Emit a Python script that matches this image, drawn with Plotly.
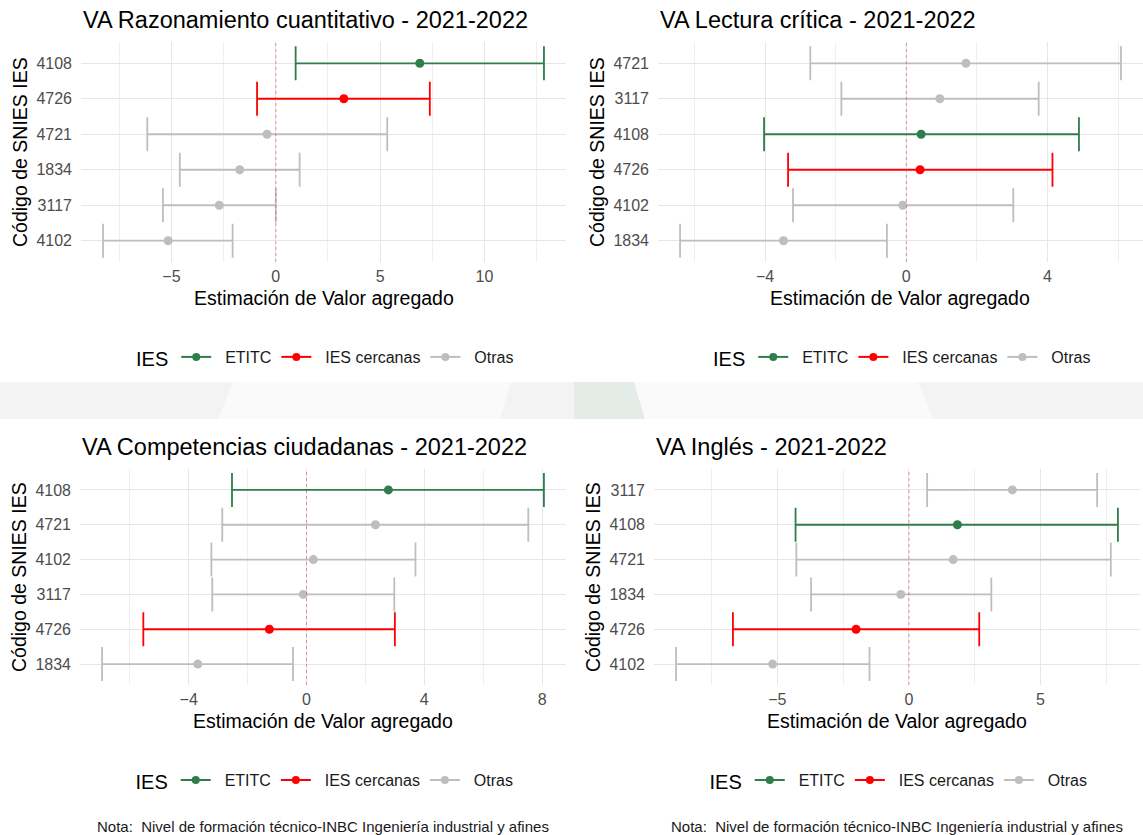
import plotly.graph_objects as go

W, H = 1143, 835

# ---------------- data ----------------
titles = [
    "VA Razonamiento cuantitativo - 2021-2022",
    "VA Lectura crítica - 2021-2022",
    "VA Competencias ciudadanas - 2021-2022",
    "VA Inglés - 2021-2022",
]

# Razonamiento cuantitativo (top -> bottom)
codes_rc = ["4108", "4726", "4721", "1834", "3117", "4102"]
est_rc = [6.90, 3.26, -0.42, -1.73, -2.71, -5.16]
low_rc = [0.95, -0.90, -6.16, -4.60, -5.41, -8.28]
high_rc = [12.85, 7.38, 5.34, 1.14, 0.00, -2.07]

# Lectura crítica
codes_lc = ["4721", "3117", "4108", "4726", "4102", "1834"]
est_lc = [1.69, 0.95, 0.42, 0.39, -0.10, -3.48]
low_lc = [-2.72, -1.84, -4.03, -3.35, -3.21, -6.41]
high_lc = [6.08, 3.75, 4.89, 4.14, 3.03, -0.55]

# Competencias ciudadanas
codes_cc = ["4108", "4721", "4102", "3117", "4726", "1834"]
est_cc = [2.78, 2.34, 0.23, -0.11, -1.26, -3.69]
low_cc = [-2.53, -2.86, -3.23, -3.20, -5.54, -6.94]
high_cc = [8.06, 7.53, 3.70, 2.98, 3.00, -0.46]

# Inglés
codes_in = ["3117", "4108", "4721", "1834", "4726", "4102"]
est_in = [3.93, 1.84, 1.68, -0.31, -2.01, -5.18]
low_in = [0.69, -4.31, -4.28, -3.72, -6.69, -8.85]
high_in = [7.15, 7.94, 7.67, 3.13, 2.67, -1.50]

group_names = ["ETITC", "IES cercanas", "Otras"]
group_codes = {"4108": "ETITC", "4726": "IES cercanas"}
group_colors = {"ETITC": "#2E7D4B", "IES cercanas": "#FF0000", "Otras": "#BEBEBE"}

x_title = "Estimación de Valor agregado"
y_title = "Código de SNIES IES"
legend_title = "IES"
note = "Nota:  Nivel de formación técnico-INBC Ingeniería industrial y afines"

# ---------------- layout geometry (pixels) ----------------
panels = [
    dict(title=titles[0], codes=codes_rc, est=est_rc, low=low_rc, high=high_rc,
         xd=(81, 566), yd=(42, 262), dtick=5),
    dict(title=titles[1], codes=codes_lc, est=est_lc, low=low_lc, high=high_lc,
         xd=(658, 1143), yd=(42, 262), dtick=4),
    dict(title=titles[2], codes=codes_cc, est=est_cc, low=low_cc, high=high_cc,
         xd=(80, 566), yd=(469, 685), dtick=4),
    dict(title=titles[3], codes=codes_in, est=est_in, low=low_in, high=high_in,
         xd=(654, 1140), yd=(469, 685), dtick=5),
]


def fx(p):
    return p / W


def fy(p):
    return 1 - p / H


FONT = "Liberation Sans, Arial, sans-serif"
NB = "\u00a0"
fig = go.Figure()
annotations = []
shapes = []
layout = {}

# faint watermark band between the rows of panels (drawn first, below all)
band = [
    ("M 0 382 L 1143 382 L 1143 419 L 0 419 Z", "#F3F3F3"),
    ("M 233 382 L 511 382 L 500 419 L 218 419 Z", "#FAFAFA"),
    ("M 574 382 L 634 382 L 645 419 L 574 419 Z", "#E4ECE8"),
    ("M 634 382 L 918 382 L 933 419 L 645 419 Z", "#FAFAFA"),
]


def to_paper_path(path):
    out = []
    toks = path.split()
    j = 0
    while j < len(toks):
        t = toks[j]
        if t in ("M", "L"):
            xv, yv = float(toks[j + 1]), float(toks[j + 2])
            out.append(f"{t} {fx(xv):.5f},{fy(yv):.5f}")
            j += 3
        else:
            out.append(t)
            j += 1
    return " ".join(out)


for pth, colr in band:
    shapes.append(dict(type="path", xref="paper", yref="paper", path=to_paper_path(pth),
                       fillcolor=colr, line=dict(width=0), layer="below"))

for i, p in enumerate(panels):
    sfx = "" if i == 0 else str(i + 1)
    xa, ya = "x" + sfx, "y" + sfx
    for g in group_names:
        idx = [k for k, c in enumerate(p["codes"]) if group_codes.get(c, "Otras") == g]
        if not idx:
            continue
        col = group_colors[g]
        fig.add_trace(go.Scatter(
            x=[p["est"][k] for k in idx],
            y=[p["codes"][k] for k in idx],
            mode="markers",
            marker=dict(color=col, size=9),
            error_x=dict(type="data", symmetric=False,
                         array=[p["high"][k] - p["est"][k] for k in idx],
                         arrayminus=[p["est"][k] - p["low"][k] for k in idx],
                         color=col, thickness=1.8, width=17),
            xaxis=xa, yaxis=ya, showlegend=False, hoverinfo="x+y",
        ))
    leg = "legend" if i == 0 else "legend" + str(i + 1)
    for g in group_names:
        col = group_colors[g]
        fig.add_trace(go.Scatter(
            x=[None], y=[None], mode="lines+markers", name=NB * 2 + g,
            line=dict(color=col, width=2), marker=dict(color=col, size=8),
            xaxis=xa, yaxis=ya, legend=leg, showlegend=True,
        ))

    allv = p["low"] + p["high"]
    lo, hi = min(allv), max(allv)
    pad = (hi - lo) * 0.05
    layout["xaxis" + sfx] = dict(
        domain=[fx(p["xd"][0]), fx(p["xd"][1])], range=[lo - pad, hi + pad],
        anchor=ya, tick0=0, dtick=p["dtick"], showgrid=True, gridcolor="#E6E6E6",
        gridwidth=1.2, zeroline=False, showline=False, ticks="",
        tickfont=dict(size=16, color="#4D4D4D", family=FONT), ticklabelstandoff=3,
        minor=dict(dtick=p["dtick"] / 2, tick0=0, showgrid=True,
                   gridcolor="#EFEFEF", gridwidth=0.7),
    )
    cats = list(reversed(p["codes"]))
    layout["yaxis" + sfx] = dict(
        domain=[fy(p["yd"][1]), fy(p["yd"][0])], type="category",
        categoryorder="array", categoryarray=cats, range=[-0.6, len(cats) - 0.4],
        anchor=xa, showgrid=True, gridcolor="#E6E6E6", gridwidth=1.2,
        zeroline=False, showline=False, ticks="",
        tickfont=dict(size=16, color="#4D4D4D", family=FONT), ticklabelstandoff=8,
    )
    # zero reference line
    shapes.append(dict(type="line", xref=xa, yref=ya + " domain", x0=0, x1=0, y0=0, y1=1,
                       line=dict(color="rgba(230,70,70,0.7)", width=0.8, dash="dot"),
                       layer="above"))
    # title
    top = p["yd"][0]
    annotations.append(dict(text=p["title"], x=fx(p["xd"][0]), y=fy(top - 22),
                            xref="paper", yref="paper", xanchor="left", yanchor="middle",
                            showarrow=False, font=dict(size=23.5, color="black", family=FONT)))
    # axis titles
    cx = (p["xd"][0] + p["xd"][1]) / 2
    annotations.append(dict(text=x_title, x=fx(cx), y=fy(p["yd"][1] + 36),
                            xref="paper", yref="paper", xanchor="center", yanchor="middle",
                            showarrow=False, font=dict(size=19.5, color="black", family=FONT)))
    annotations.append(dict(text=y_title, x=fx(p["xd"][0] - 61), y=fy((p["yd"][0] + p["yd"][1]) / 2),
                            xref="paper", yref="paper", xanchor="center", yanchor="middle",
                            textangle=-90, showarrow=False,
                            font=dict(size=19.5, color="black", family=FONT)))
    # legend
    layout[leg] = dict(
        orientation="h", x=fx(cx + 3), y=fy(p["yd"][1] + 96), xref="paper", yref="paper",
        xanchor="center", yanchor="middle", bgcolor="rgba(0,0,0,0)",
        title=dict(text=legend_title, font=dict(size=20, color="black", family=FONT)),
        font=dict(size=16, color="#1A1A1A", family=FONT), itemwidth=30,
    )
    if i >= 2:
        annotations.append(dict(text=note, x=fx(p["xd"][0] + 15), y=fy(826),
                                xref="paper", yref="paper", xanchor="left", yanchor="middle",
                                showarrow=False, font=dict(size=15, color="#1A1A1A", family=FONT)))

fig.update_layout(
    width=W, height=H, margin=dict(l=0, r=0, t=0, b=0),
    paper_bgcolor="white", plot_bgcolor="rgba(0,0,0,0)",
    font=dict(family=FONT), annotations=annotations, shapes=shapes,
    **layout,
)

fig.write_html("out.html", config={"displayModeBar": False},
               post_script="document.body.style.margin='0px';")
